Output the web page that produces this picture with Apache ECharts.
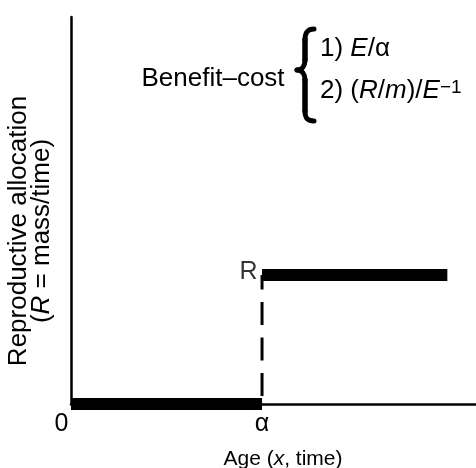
<!DOCTYPE html>
<html><head><meta charset="utf-8">
<script src="https://cdn.jsdelivr.net/npm/echarts@6/dist/echarts.min.js"></script>
<style>html,body{margin:0;padding:0;background:#fff}#c{width:476px;height:468px}</style>
</head><body><div id="c"></div>
<script>
// ---- data ----
const xTickValues = [0, 1];            // 0 and maturity age α
const xTickLabels = ['0', 'α'];
const juvenileAllocation = [[0, 0], [1, 0]];   // no reproduction before α
const adultAllocation = [[1, 1], [1.97, 1]];   // constant R after α
const switchAtMaturity = [[1, 1], [1, 0]];     // dashed bang-bang switch
const levelLabelPoint = [[1, 1]];
const levelLabel = 'R';
const xAxisTitle = 'Age ({i|x}, time)';
const yAxisTitle = 'Reproductive allocation\n({i|R} = mass/time)';
const braceTitle = 'Benefit–cost';
const braceLine1 = '1) {i|E}/α';
const braceLine2 = '2) ({i|R}/{i|m})/{i|E}{sup|−1}';

const FF = "'Liberation Sans', Arial, Helvetica, sans-serif";
const chart = echarts.init(document.getElementById('c'), null, {renderer: 'canvas'});

function xLabel(v) {
  const i = xTickValues.indexOf(v);
  if (i < 0) return '';
  return i === 0 ? '{z|' + xTickLabels[i] + '}' : xTickLabels[i];
}

const blackLine = (w) => ({color: '#000', width: w, cap: 'butt'});

chart.setOption({
  animation: false,
  backgroundColor: '#fff',
  grid: {left: 71, right: 0, top: 17, bottom: 64, containLabel: false, outerBoundsMode: 'none'},
  xAxis: {
    type: 'value', min: 0, max: 2.12,
    axisLine: {show: true, onZero: true, lineStyle: {color: '#000', width: 2.5}},
    axisTick: {show: false}, splitLine: {show: false},
    axisLabel: {
      customValues: xTickValues, formatter: xLabel, showMinLabel: true, showMaxLabel: true,
      color: '#000', fontSize: 25, fontFamily: FF, margin: 8,
      rich: {z: {color: '#000', fontSize: 25, fontFamily: FF, padding: [0, 19, 0, 0]}}
    },
    name: xAxisTitle, nameLocation: 'middle', nameGap: 45,
    nameTextStyle: {color: '#000', fontSize: 21, fontFamily: FF, padding: [0, 0, 0, 19],
      rich: {i: {color: '#000', fontSize: 21, fontFamily: FF, fontStyle: 'italic'}}}
  },
  yAxis: {
    type: 'value', min: 0, max: 3,
    axisLine: {show: true, lineStyle: {color: '#000', width: 2.5}},
    axisTick: {show: false}, splitLine: {show: false}, axisLabel: {show: false}
  },
  series: [
    {type: 'line', data: juvenileAllocation, symbol: 'none', silent: true, z: 3, lineStyle: blackLine(12)},
    {type: 'line', data: adultAllocation, symbol: 'none', silent: true, z: 3, lineStyle: blackLine(12)},
    {type: 'line', data: switchAtMaturity, symbol: 'none', silent: true, z: 2,
      lineStyle: {color: '#000', width: 3, type: [23, 12.5], dashOffset: 8.5, cap: 'butt'}},
    {type: 'scatter', data: levelLabelPoint, symbolSize: 1, silent: true, z: 4,
      itemStyle: {color: 'rgba(0,0,0,0)'},
      label: {show: true, position: 'left', distance: 4, offset: [0, -3], formatter: levelLabel,
        color: '#000', fontSize: 25, fontFamily: FF}}
  ],
  graphic: {elements: [
    {type: 'text', x: 30.5, y: 231, rotation: Math.PI / 2, silent: true,
      style: {text: yAxisTitle, fill: '#000', fontSize: 26, fontFamily: FF, lineHeight: 23,
        align: 'center', verticalAlign: 'middle',
        rich: {i: {fill: '#000', fontSize: 26, fontFamily: FF, fontStyle: 'italic', lineHeight: 23}}}},
    {type: 'text', x: 141.5, y: 79, silent: true,
      style: {text: braceTitle, fill: '#000', fontSize: 26, fontFamily: FF, align: 'left', verticalAlign: 'middle'}},
    {type: 'text', x: 320, y: 49, silent: true,
      style: {text: braceLine1, fill: '#000', fontSize: 26, fontFamily: FF, lineHeight: 26, align: 'left', verticalAlign: 'middle',
        rich: {i: {fill: '#000', fontSize: 26, fontFamily: FF, fontStyle: 'italic', lineHeight: 26}}}},
    {type: 'text', x: 320, y: 91, silent: true,
      style: {text: braceLine2, fill: '#000', fontSize: 26, fontFamily: FF, lineHeight: 26, align: 'left', verticalAlign: 'middle',
        rich: {i: {fill: '#000', fontSize: 26, fontFamily: FF, fontStyle: 'italic', lineHeight: 26},
               sup: {fill: '#000', fontSize: 19, fontFamily: FF, lineHeight: 19, verticalAlign: 'top'}}}},
    // curly brace
    {type: 'bezierCurve', silent: true, shape: {x1: 314, y1: 29, cpx1: 307, cpy1: 29, cpx2: 305, cpy2: 33, x2: 305, y2: 40},
      style: {stroke: '#000', lineWidth: 5, fill: null, lineCap: 'round'}},
    {type: 'line', silent: true, shape: {x1: 305, y1: 40, x2: 305, y2: 60},
      style: {stroke: '#000', lineWidth: 5.5, lineCap: 'round'}},
    {type: 'bezierCurve', silent: true, shape: {x1: 305, y1: 60, cpx1: 305, cpy1: 66, cpx2: 302, cpy2: 70, x2: 297, y2: 70},
      style: {stroke: '#000', lineWidth: 5, fill: null, lineCap: 'round'}},
    {type: 'bezierCurve', silent: true, shape: {x1: 297, y1: 70, cpx1: 302, cpy1: 70, cpx2: 305, cpy2: 74, x2: 305, y2: 80},
      style: {stroke: '#000', lineWidth: 5, fill: null, lineCap: 'round'}},
    {type: 'line', silent: true, shape: {x1: 305, y1: 80, x2: 305, y2: 111},
      style: {stroke: '#000', lineWidth: 5.5, lineCap: 'round'}},
    {type: 'bezierCurve', silent: true, shape: {x1: 305, y1: 111, cpx1: 305, cpy1: 118, cpx2: 307, cpy2: 121, x2: 314, y2: 121},
      style: {stroke: '#000', lineWidth: 5, fill: null, lineCap: 'round'}}
  ]}
});
</script>
</body></html>
